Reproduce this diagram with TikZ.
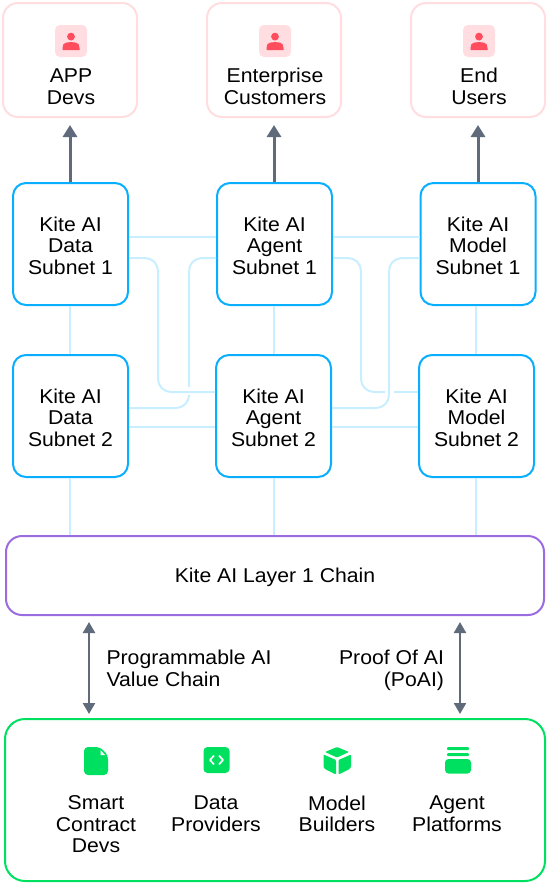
\documentclass[tikz,border=0pt]{standalone}
\usepackage{fontspec}
\setmainfont[FakeStretch=1.06]{Liberation Sans}
\usepackage{xcolor}
\usetikzlibrary{arrows.meta, positioning, calc}
\definecolor{kiteblue}{HTML}{0AAEFF}
\definecolor{kitelink}{HTML}{C9EEFF}
\definecolor{kitepink}{HTML}{FFDDE0}
\definecolor{kitered}{HTML}{FF4D5E}
\definecolor{kitegray}{HTML}{5F6B7A}
\definecolor{kitepurple}{HTML}{9B6BE0}
\definecolor{kitegreen}{HTML}{00E060}
\tikzset{
	boxtext/.style={font=\fontsize{20}{21.7}\selectfont, align=center, text=black},
	subnetbox/.style={boxtext, draw=kiteblue, line width=2pt, rounded corners=13pt, fill=white, minimum width=115pt, minimum height=122pt, inner sep=0pt},
	userbox/.style={draw=kitepink, line width=2pt, rounded corners=15pt, fill=white, minimum width=134pt, minimum height=114pt, inner sep=0pt},
	iconbox/.style={fill=kitepink, rounded corners=5pt, minimum size=32pt, inner sep=0pt},
	chainbox/.style={boxtext, draw=kitepurple, line width=2pt, rounded corners=16pt, minimum width=538pt, minimum height=79pt},
	basebox/.style={draw=kitegreen, line width=2pt, rounded corners=20pt, minimum width=540pt, minimum height=162pt},
	linkline/.style={draw=kitelink, line width=2pt},
	bendline/.style={linkline, rounded corners=13pt},
	uparrow/.style={-{Triangle[length=12pt, width=14pt]}, draw=kitegray, fill=kitegray, line width=3pt, shorten >=7pt},
	twoarrow/.style={{Triangle[length=11pt, width=12pt]}-{Triangle[length=11pt, width=12pt]}, draw=kitegray, fill=kitegray, line width=2.4pt},
}
\newcommand{\topstrut}{\rule{0pt}{18pt}}
\newcommand{\personicon}[1]{
	\fill[kitered] ($(#1)+(0,-4.4)$) circle (3.9pt);
	\fill[kitered] ($(#1)+(-8.5,9)$) -- ++(0,-2) .. controls ($(#1)+(-8.5,1.2)$) and ($(#1)+(-4,1.2)$) .. ($(#1)+(0,1.2)$) .. controls ($(#1)+(4,1.2)$) and ($(#1)+(8.5,1.2)$) .. ($(#1)+(8.5,7)$) -- ++(0,2) -- cycle;
}
\begin{document}
\begin{tikzpicture}[x=1pt, y=-1pt]
	\useasboundingbox (0,0) rectangle (548,884);
	% users
	\node[userbox] (appbox) at (70,60) {};
	\node[userbox] (entbox) at (274,60) {};
	\node[userbox] (endbox) at (478,60) {};
	\node[iconbox] (appicon) at (71,41) {};
	\node[iconbox] (enticon) at (275,41) {};
	\node[iconbox] (endicon) at (479,41) {};
	\personicon{appicon}
	\personicon{enticon}
	\personicon{endicon}
	\node[boxtext] (applabel) at (71,87) {APP\\Devs};
	\node[boxtext] (entlabel) at (275,86) {Enterprise\\Customers};
	\node[boxtext] (endlabel) at (479,86) {End\\Users};
	% subnets
	\node[subnetbox] (data1) at (70.5,244) {\topstrut Kite AI\\Data\\Subnet 1};
	\node[subnetbox] (agent1) at (274.5,244) {\topstrut Kite AI\\Agent\\Subnet 1};
	\node[subnetbox] (model1) at (478,244) {\topstrut Kite AI\\Model\\Subnet 1};
	\node[subnetbox] (data2) at (70.5,416) {\topstrut Kite AI\\Data\\Subnet 2};
	\node[subnetbox] (agent2) at (273.5,416) {\topstrut Kite AI\\Agent\\Subnet 2};
	\node[subnetbox] (model2) at (476.5,416) {\topstrut Kite AI\\Model\\Subnet 2};
	\node[chainbox] (chain) at (275,575.5) {\topstrut Kite AI Layer 1 Chain};
	\node[basebox] (base) at (275,800) {};
	% links
	\draw[linkline] (data1.south -| 70,0) -- (data2.north -| 70,0);
	\draw[linkline] (agent1.south -| 274,0) -- (agent2.north -| 274,0);
	\draw[linkline] (model1.south -| 476,0) -- (model2.north -| 476,0);
	\draw[linkline] (data2.south -| 70,0) -- (chain.north -| 70,0);
	\draw[linkline] (agent2.south -| 274,0) -- (chain.north -| 274,0);
	\draw[linkline] (model2.south -| 476,0) -- (chain.north -| 476,0);
	\draw[linkline] ([yshift=7pt]data1.east) -- ([yshift=7pt]agent1.west);
	\draw[linkline] ([yshift=7pt]agent1.east) -- ([yshift=7pt]model1.west);
	\draw[linkline] ([yshift=-11pt]data2.east) -- ([yshift=-11pt]agent2.west);
	\draw[linkline] ([yshift=-11pt]agent2.east) -- ([yshift=-11pt]model2.west);
	\coordinate (gapa) at (189,387);
	\coordinate (gapb) at (189,397);
	\coordinate (gapc) at (385,392);
	\coordinate (gapd) at (394,392);
	\draw[bendline] ([yshift=-14pt]data1.east) -- (158,258) -- (158,392) -- ([yshift=24pt]agent2.west);
	\draw[bendline] ([yshift=-14pt]agent1.west) -- (189,258) -- (gapa);
	\draw[bendline] (gapb) -- (189,408) -- ([yshift=8pt]data2.east);
	\draw[bendline] ([yshift=-14pt]agent1.east) -- (361,258) -- (361,392) -- (gapc);
	\draw[linkline] (gapd) -- ([yshift=24pt]model2.west);
	\draw[bendline] ([yshift=-14pt]model1.west) -- (389,258) -- (389,408) -- ([yshift=8pt]agent2.east);
	% arrows
	\draw[uparrow] (data1.north -| 70,0) -- (appbox.south -| 70,0);
	\draw[uparrow] (agent1.north -| 274,0) -- (entbox.south -| 274,0);
	\draw[uparrow] (model1.north -| 478,0) -- (endbox.south -| 478,0);
	\draw[twoarrow, shorten <=6pt, shorten >=4pt] (chain.south -| 89,0) -- (base.north -| 89,0);
	\draw[twoarrow, shorten <=6pt, shorten >=4pt] (chain.south -| 460,0) -- (base.north -| 460,0);
	\node[boxtext, anchor=west, align=left] (valuelabel) at (103,668) {Programmable AI\\Value Chain};
	\node[boxtext, anchor=east, align=right] (poailabel) at (447.5,670) {Proof Of AI\\(PoAI)};
	% base icons
	\fill[kitegreen, rounded corners=4pt] (84,747) -- (100,747) -- (108,755) -- (108,775) -- (84,775) -- cycle;
	\fill[white] (100.5,750) -- (105,755) -- (100.5,755) -- cycle;
	\node[fill=kitegreen, rounded corners=4pt, minimum size=26pt, inner sep=0pt] (dataicon) at (216.5,760) {};
	\draw[white, line width=1.7pt, line join=round] (214,755.5) -- (210,760) -- (214,764.5);
	\draw[white, line width=1.7pt, line join=round] (219,755.5) -- (223,760) -- (219,764.5);
	\fill[kitegreen, rounded corners=1pt] (337,747) -- (349,752) -- (337,757.5) -- (325,752) -- cycle;
	\fill[kitegreen, rounded corners=1pt] (323.5,754.5) -- (336,760) -- (336,774.5) -- (325,769) -- (323.5,767) -- cycle;
	\fill[kitegreen, rounded corners=1pt] (351,754.5) -- (338.5,760) -- (338.5,774.5) -- (349.5,769) -- (351,767) -- cycle;
	\fill[kitegreen, rounded corners=1pt] (447,747) rectangle (469,750);
	\fill[kitegreen, rounded corners=1pt] (447,753) rectangle (469,756);
	\fill[kitegreen, rounded corners=3.5pt] (445,759) rectangle (471,773.5);
	\node[boxtext, anchor=north] (smartlabel) at (96,792) {Smart\\Contract\\Devs};
	\node[boxtext, anchor=north] (providerlabel) at (216,792) {Data\\Providers};
	\node[boxtext, anchor=north] (builderlabel) at (337,792) {Model\\Builders};
	\node[boxtext, anchor=north] (platformlabel) at (457,792) {Agent\\Platforms};
\end{tikzpicture}
\end{document}
